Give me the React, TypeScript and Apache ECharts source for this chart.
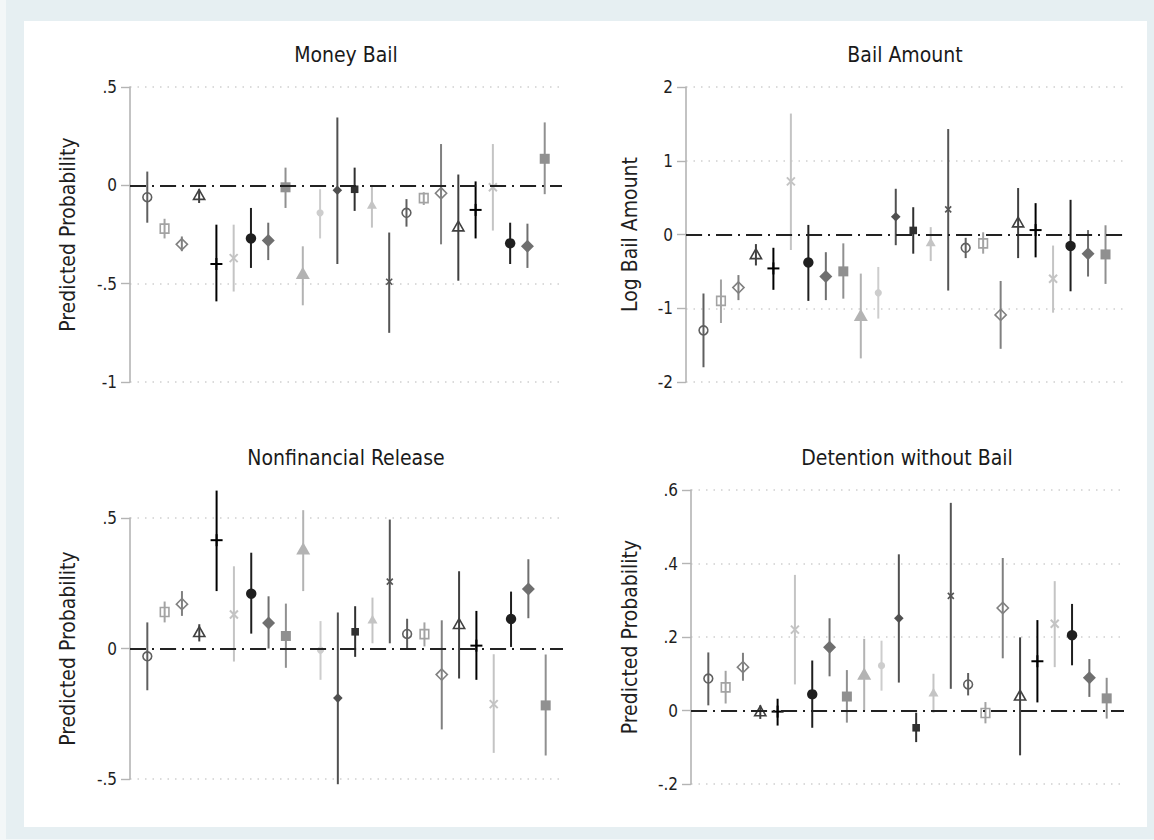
import React, { useEffect, useRef } from "react";
import * as echarts from "echarts";

// ---- data (24 estimates per panel, with 95% CI bounds) ----
const POSITIONS = [1, 2, 3, 4, 5, 6, 7, 8, 9, 10, 11, 12, 13, 14, 15, 16, 17, 18, 19, 20, 21, 22, 23, 24];

const MONEY_EST = [-0.06, -0.22, -0.3, -0.05, -0.4, -0.37, -0.27, -0.28, -0.01, -0.45, -0.14, -0.025, -0.02, -0.1, -0.49, -0.14, -0.065, -0.04, -0.21, -0.125, -0.01, -0.295, -0.31, 0.135];
const MONEY_HI = [0.07, -0.17, -0.26, -0.02, -0.2, -0.2, -0.115, -0.19, 0.09, -0.31, -0.02, 0.345, 0.09, 0.0, -0.24, -0.07, -0.035, 0.21, 0.055, 0.02, 0.21, -0.19, -0.195, 0.32];
const MONEY_LO = [-0.19, -0.27, -0.335, -0.09, -0.59, -0.54, -0.42, -0.38, -0.115, -0.61, -0.27, -0.4, -0.13, -0.215, -0.75, -0.21, -0.1, -0.3, -0.485, -0.27, -0.23, -0.4, -0.42, -0.045];

const AMOUNT_EST = [-1.3, -0.9, -0.72, -0.27, -0.46, 0.72, -0.38, -0.57, -0.5, -1.1, -0.79, 0.24, 0.055, -0.11, 0.34, -0.18, -0.12, -1.09, 0.16, 0.06, -0.6, -0.155, -0.26, -0.27];
const AMOUNT_HI = [-0.8, -0.61, -0.55, -0.13, -0.18, 1.64, 0.13, -0.24, -0.12, -0.53, -0.44, 0.62, 0.37, 0.1, 1.43, -0.045, 0.03, -0.63, 0.63, 0.425, -0.15, 0.47, 0.06, 0.125];
const AMOUNT_LO = [-1.8, -1.2, -0.89, -0.42, -0.75, -0.21, -0.9, -0.89, -0.87, -1.68, -1.14, -0.145, -0.26, -0.36, -0.76, -0.32, -0.26, -1.55, -0.32, -0.31, -1.06, -0.77, -0.57, -0.67];

const NONFIN_EST = [-0.03, 0.14, 0.17, 0.062, 0.415, 0.13, 0.21, 0.098, 0.048, 0.38, -0.006, -0.19, 0.064, 0.11, 0.256, 0.056, 0.055, -0.1, 0.093, 0.011, -0.213, 0.113, 0.228, -0.218];
const NONFIN_HI = [0.1, 0.18, 0.22, 0.093, 0.605, 0.315, 0.367, 0.2, 0.172, 0.53, 0.105, 0.138, 0.162, 0.195, 0.494, 0.114, 0.1, 0.108, 0.296, 0.144, -0.022, 0.218, 0.342, -0.023];
const NONFIN_LO = [-0.16, 0.1, 0.125, 0.027, 0.22, -0.05, 0.057, 0.0, -0.074, 0.22, -0.12, -0.52, -0.032, 0.02, 0.02, 0.0, 0.008, -0.31, -0.115, -0.12, -0.4, 0.006, 0.116, -0.41];

const DETAIN_EST = [0.087, 0.063, 0.118, -0.003, -0.003, 0.22, 0.044, 0.172, 0.038, 0.098, 0.122, 0.251, -0.047, 0.048, 0.312, 0.071, -0.007, 0.279, 0.04, 0.134, 0.236, 0.205, 0.089, 0.033];
const DETAIN_HI = [0.158, 0.108, 0.157, 0.014, 0.032, 0.369, 0.136, 0.251, 0.11, 0.195, 0.19, 0.425, -0.006, 0.1, 0.565, 0.102, 0.023, 0.415, 0.199, 0.246, 0.352, 0.29, 0.14, 0.089];
const DETAIN_LO = [0.014, 0.019, 0.081, -0.023, -0.041, 0.071, -0.047, 0.093, -0.033, 0.0, 0.054, 0.076, -0.086, -0.006, 0.059, 0.041, -0.035, 0.142, -0.122, 0.022, 0.118, 0.123, 0.037, -0.022];

const TITLES = ["Money Bail", "Bail Amount", "Nonfinancial Release", "Detention without Bail"];
const Y_NAMES = ["Predicted Probability", "Log Bail Amount", "Predicted Probability", "Predicted Probability"];
const Y_MIN = [-1, -2, -0.5, -0.2];
const Y_MAX = [0.5, 2, 0.5, 0.6];
const Y_STEP = [0.5, 1, 0.5, 0.2];

// ---- styles ----
const MARK_TYPES = ["Oh", "Sh", "Dh", "Th", "+", "X", "O", "D", "S", "T", "o", "d", "s", "t", "x"];
const MARK_COLORS = ["#5f5f5f", "#a3a3a3", "#808080", "#404040", "#000000", "#c4c4c4", "#1f1f1f", "#6f6f6f", "#909090", "#b3b3b3", "#cdcdcd", "#505050", "#303030", "#c4c4c4", "#555555"];

const FONT = "'DejaVu Sans Condensed', 'Noto Sans', sans-serif";

const GRIDS = [
  { left: 130, top: 87, width: 432, height: 295 },
  { left: 686, top: 87, width: 437, height: 295 },
  { left: 130, top: 518, width: 433, height: 261 },
  { left: 691, top: 490, width: 433, height: 294 },
];
const NAME_GAPS = [52, 46, 52, 51];

function fmt(v: number) {
  const s = String(+v.toFixed(2));
  return s.replace(/^(-?)0\./, "$1.");
}

function marker(type: string, x: number, y: number, c: string): any {
  const hollow = { fill: "none", stroke: c, lineWidth: 1.6 };
  const solid = { fill: c };
  const line = (x1: number, y1: number, x2: number, y2: number, w = 2) => ({
    type: "line",
    shape: { x1, y1, x2, y2 },
    style: { stroke: c, lineWidth: w },
  });
  const diamond = (s: number) => [[x, y - s], [x + s, y], [x, y + s], [x - s, y]];
  const tri = (s: number) => [[x, y - s], [x + s, y + s * 0.75], [x - s, y + s * 0.75]];
  switch (type) {
    case "Oh": return { type: "circle", shape: { cx: x, cy: y, r: 4.4 }, style: hollow };
    case "Sh": return { type: "rect", shape: { x: x - 4.3, y: y - 4.5, width: 8.6, height: 9 }, style: hollow };
    case "Dh": return { type: "polygon", shape: { points: diamond(5.6) }, style: hollow };
    case "Th": return { type: "polygon", shape: { points: tri(5.6) }, style: hollow };
    case "+": return { type: "group", children: [line(x - 6, y, x + 6, y), line(x, y - 6, x, y + 6)] };
    case "X": return { type: "group", children: [line(x - 4, y - 4, x + 4, y + 4), line(x - 4, y + 4, x + 4, y - 4)] };
    case "O": return { type: "circle", shape: { cx: x, cy: y, r: 5.2 }, style: solid };
    case "D": return { type: "polygon", shape: { points: diamond(6.5) }, style: solid };
    case "S": return { type: "rect", shape: { x: x - 5, y: y - 5, width: 10, height: 10 }, style: solid };
    case "T": return { type: "polygon", shape: { points: tri(7) }, style: solid };
    case "o": return { type: "circle", shape: { cx: x, cy: y, r: 3.6 }, style: solid };
    case "d": return { type: "polygon", shape: { points: diamond(4.8) }, style: solid };
    case "s": return { type: "rect", shape: { x: x - 3.8, y: y - 3.8, width: 7.6, height: 7.6 }, style: solid };
    case "t": return { type: "polygon", shape: { points: tri(5) }, style: solid };
    default: return { type: "group", children: [line(x - 3, y - 3, x + 3, y + 3, 1.6), line(x - 3, y + 3, x + 3, y - 3, 1.6)] };
  }
}

function renderItem(params: any, api: any) {
  const x = api.value(0);
  const est = api.value(1);
  const lo = api.value(2);
  const hi = api.value(3);
  const k = params.dataIndex % 15;
  const c = MARK_COLORS[k];
  const pHi = api.coord([x, hi]);
  const pLo = api.coord([x, lo]);
  const p = api.coord([x, est]);
  return {
    type: "group",
    children: [
      { type: "line", shape: { x1: pHi[0], y1: pHi[1], x2: pLo[0], y2: pLo[1] }, style: { stroke: c, lineWidth: 2 } },
      marker(MARK_TYPES[k], p[0], p[1], c),
    ],
  };
}

export default function App() {
  const ref = useRef<HTMLDivElement>(null);
  useEffect(() => {
    if (!ref.current) return;
    const chart = echarts.init(ref.current, undefined, { renderer: "svg" });
    const panels = [
      [MONEY_EST, MONEY_LO, MONEY_HI],
      [AMOUNT_EST, AMOUNT_LO, AMOUNT_HI],
      [NONFIN_EST, NONFIN_LO, NONFIN_HI],
      [DETAIN_EST, DETAIN_LO, DETAIN_HI],
    ];
    const grid = GRIDS.map((g) => ({ ...g, containLabel: false }));
    const xAxis = GRIDS.map((_, i) => ({ type: "value", gridIndex: i, min: 0, max: 25, show: false }));
    const yAxis = GRIDS.map((_, i) => ({
      type: "value",
      gridIndex: i,
      min: Y_MIN[i],
      max: Y_MAX[i],
      interval: Y_STEP[i],
      name: Y_NAMES[i],
      nameLocation: "middle",
      nameGap: NAME_GAPS[i],
      nameTextStyle: { fontSize: 21, color: "#1e1e1e", fontFamily: FONT },
      axisLine: { show: true, onZero: false, lineStyle: { color: "#b4b4b4", width: 1.6 } },
      axisTick: { show: true, length: 9, lineStyle: { color: "#b4b4b4", width: 1.4 } },
      axisLabel: { color: "#1e1e1e", fontSize: 17, margin: 13, fontFamily: FONT, formatter: (v: number) => fmt(v) },
      splitLine: { show: true, lineStyle: { color: "#cfcfcf", width: 1.5, type: [1.5, 6] } },
    }));
    const series: any[] = [];
    panels.forEach((p, i) => {
      series.push({
        type: "custom",
        xAxisIndex: i,
        yAxisIndex: i,
        clip: false,
        z: 3,
        renderItem,
        encode: { x: 0, y: [1, 2, 3] },
        data: POSITIONS.map((pos, j) => [pos, p[0][j], p[1][j], p[2][j]]),
        markLine: {
          silent: true,
          symbol: "none",
          label: { show: false },
          lineStyle: { color: "#222222", width: 1.8, type: [16, 6, 2, 6] },
          data: [{ yAxis: 0 }],
        },
      });
    });
    const titlePos = [
      [346, 55],
      [905, 55],
      [346, 458],
      [907, 458],
    ];
    const graphic: any[] = [
      { type: "rect", z: -100, shape: { x: 0, y: 0, width: 6, height: 840 }, style: { fill: "#f3f7f8" }, silent: true },
      { type: "rect", z: -100, shape: { x: 0, y: 839, width: 1154, height: 1 }, style: { fill: "#f3f7f8" }, silent: true },
      { type: "rect", z: -100, shape: { x: 24, y: 21, width: 1123, height: 806 }, style: { fill: "#ffffff" }, silent: true },
      ...TITLES.map((t, i) => ({
        type: "text",
        z: 100,
        x: titlePos[i][0],
        y: titlePos[i][1],
        style: { text: t, fill: "#1a1a1a", font: `21px ${FONT}`, textAlign: "center", textVerticalAlign: "middle" },
      })),
    ];
    chart.setOption({
      animation: false,
      backgroundColor: "#e6eff2",
      textStyle: { fontFamily: FONT },
      grid,
      xAxis,
      yAxis,
      series,
      graphic,
    });
    return () => chart.dispose();
  }, []);
  return <div ref={ref} style={{ position: "absolute", left: 0, top: 0, width: 1154, height: 840 }} />;
}
